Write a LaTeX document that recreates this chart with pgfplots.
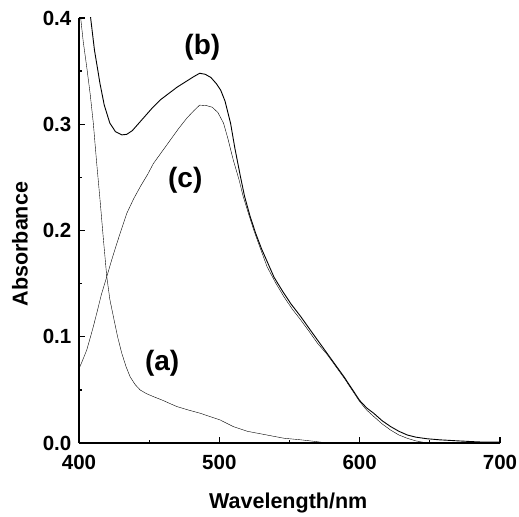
\documentclass[border=0pt]{standalone}
\usepackage{fontspec}
\setmainfont{Liberation Sans}
\usepackage{pgfplots}
\pgfplotsset{compat=1.18}

\begin{document}
\begin{tikzpicture}
\begin{axis}[
    scale only axis,
    width=421pt, height=425pt,
    xmin=400, xmax=700, ymin=0, ymax=0.4,
    axis x line=bottom, axis y line=left,
    axis line style={-, line width=1.6pt},
    xtick={400,500,600,700},
    ytick={0,0.1,0.2,0.3,0.4},
    minor tick num=1,
    tick align=inside,
    major tick length=6.5pt, minor tick length=3.5pt,
    tick style={line width=1.3pt, black},
    /pgf/number format/assume math mode=true,
    yticklabel style={/pgf/number format/fixed, /pgf/number format/fixed zerofill, /pgf/number format/precision=1, xshift=-6.5pt},
    ticklabel style={font=\bfseries\fontsize{20.5}{24}\selectfont, inner sep=1pt},
    xticklabel style={yshift=-11pt},
    xlabel={Wavelength/nm}, ylabel={Absorbance},
    label style={font=\bfseries\fontsize{21.5}{25}\selectfont},
    xlabel style={at={(axis description cs:0.497,-0.141)}, anchor=center},
    ylabel style={at={(axis description cs:-0.14,0.468)}, anchor=center},
    cycle list={{black, line width=0.9pt}},
    no markers,
]
\coordinate (sw) at (rel axis cs:0,0);
\coordinate (ne) at (rel axis cs:1,1);
% (a)
\addplot coordinates {
(400,0.43) (401.2,0.400) (403,0.378) (405.5,0.354) (408,0.328) (410.2,0.301)
(412.5,0.265) (415,0.2287) (417.5,0.190) (419.8,0.1565) (422,0.135) (424.5,0.119)
(427.5,0.100) (430.5,0.0844) (433.5,0.072) (436.4,0.0624) (440,0.055) (443.6,0.0499)
(448,0.0465) (453.1,0.0436) (460,0.040) (465,0.037) (470,0.0342) (478,0.031)
(486.4,0.028) (493,0.025) (500.7,0.0216) (510,0.0154) (520,0.011) (534,0.0075)
(546,0.0045) (558,0.003) (568,0.0015) (577,0.0) (700,0.0)
};
% (b)
\addplot coordinates {
(405,0.44) (408.3,0.400) (411,0.370) (415,0.338) (418,0.318) (422,0.301)
(426,0.293) (430.5,0.290) (434,0.2905) (438,0.294) (442,0.300) (446,0.306)
(452,0.315) (458,0.323) (464,0.329) (470,0.335) (476,0.340) (482,0.345)
(486,0.348) (490,0.347) (494,0.344) (498,0.338) (501,0.332) (504,0.322)
(508,0.301) (511,0.278) (515,0.251) (518,0.232) (522,0.213) (526,0.197)
(530,0.183) (535,0.168) (539,0.156) (545,0.143) (551,0.131) (558,0.119)
(565,0.106) (571,0.095) (577,0.084) (583,0.073) (589,0.062) (595,0.050)
(600,0.040) (605,0.033) (610,0.028) (616,0.021) (622,0.0155) (628,0.011)
(634,0.0075) (640,0.0055) (648,0.004) (657,0.003) (670,0.002) (685,0.001) (700,0.0008)
};
% (c)
\addplot coordinates {
(400,0.070) (402,0.076) (405.5,0.0875) (408,0.099) (410.2,0.1095) (413,0.124)
(416,0.140) (419.8,0.1565) (423,0.171) (427,0.188) (431,0.204) (434,0.216)
(439,0.230) (444,0.242) (449,0.253) (453,0.263) (459,0.274) (465,0.285)
(471,0.296) (477,0.306) (482,0.313) (486,0.318) (491,0.3175) (495,0.316)
(499,0.311) (503,0.301) (506,0.287) (510,0.266) (514,0.248) (517,0.232)
(521,0.215) (524.5,0.2005) (529,0.184) (534,0.166) (540,0.151) (546,0.1377)
(552,0.126) (558,0.1158) (564,0.105) (570,0.0938) (577,0.083) (583,0.072)
(589,0.061) (595,0.049) (600,0.039) (605,0.031) (610,0.025) (616,0.018)
(622,0.0122) (628,0.0075) (634,0.0044) (640,0.002) (646,0.0005) (655,0.0) (700,0.0)
};
\node[font=\bfseries\fontsize{28}{32}\selectfont] at (axis cs:487.9,0.3727) {(b)};
\node[font=\bfseries\fontsize{28}{32}\selectfont] at (axis cs:475.7,0.2475) {(c)};
\node[font=\bfseries\fontsize{28}{32}\selectfont] at (axis cs:459.3,0.0753) {(a)};
\end{axis}
\path ([shift={(-79pt,-73pt)}]sw) rectangle ([shift={(19pt,18pt)}]ne);
\end{tikzpicture}
\end{document}
